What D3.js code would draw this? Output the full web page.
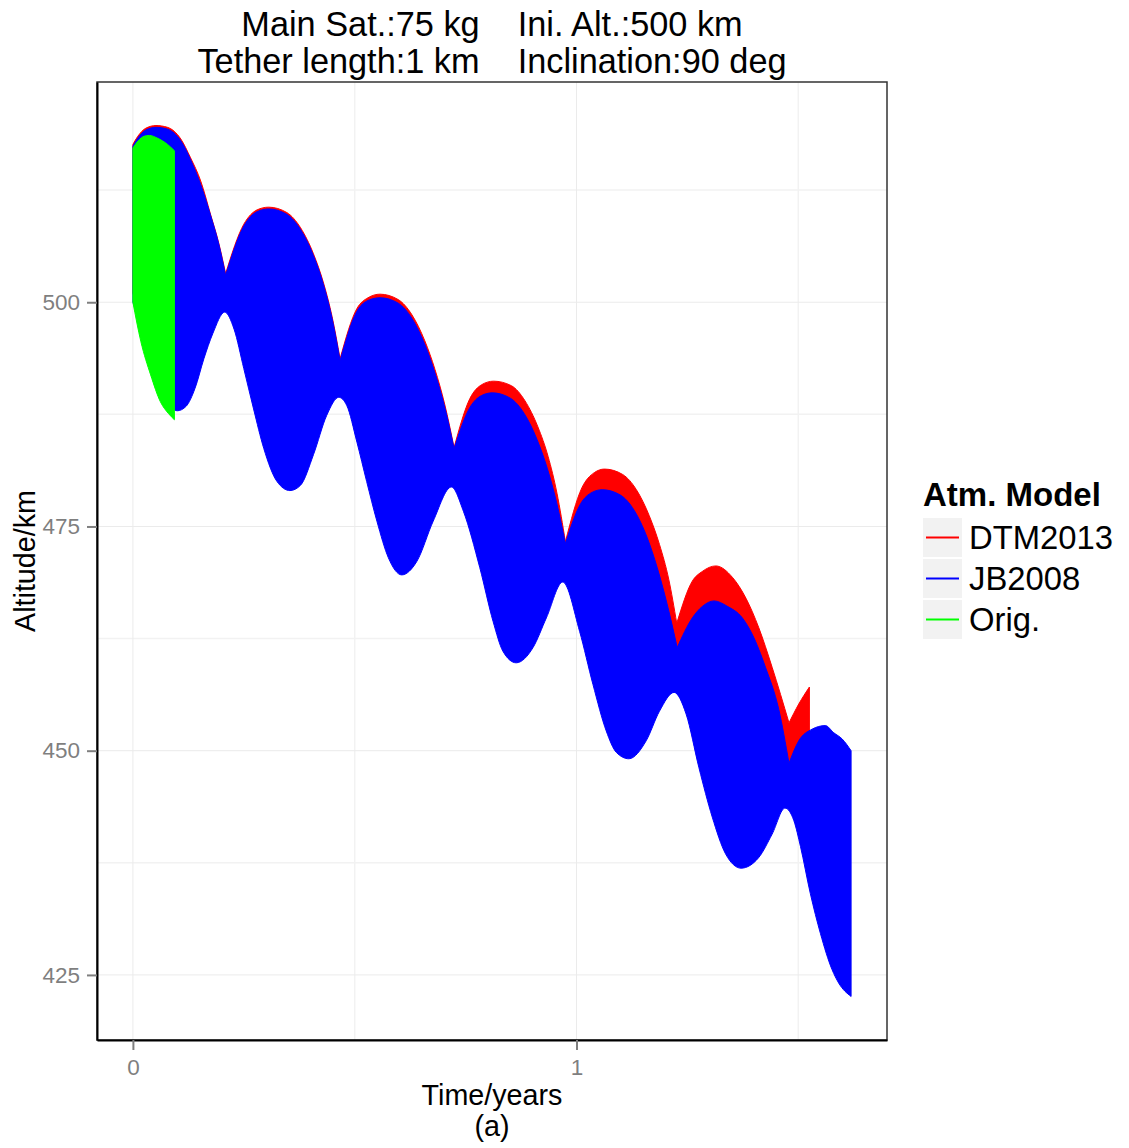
<!DOCTYPE html>
<html>
<head>
<meta charset="utf-8">
<script src="https://cdn.jsdelivr.net/npm/d3@7"></script>
<style>
  body { margin: 0; background: #fff; }
  text { font-family: "Liberation Sans", Arial, sans-serif; }
</style>
</head>
<body>
<div class="visualizations"></div>
<script>
(function() {
  'use strict';

  // ---- data (years, km) ----
  var models = ["DTM2013", "JB2008", "Orig."];
  var colors = ["#ff0000", "#0000ff", "#00ff00"];
  var xTicks = [0, 1];
  var yTicks = [425, 450, 475, 500];
  var titleLines = ["Main Sat.:75 kg    Ini. Alt.:500 km", "Tether length:1 km    Inclination:90 deg"];

  var dtmUpperT = [0, .011, .029, .052, .078, .108, .130, .153, .175, .194, .209,
    .250, .280, .306, .347, .378, .407, .430, .449, .467,
    .505, .530, .557, .598, .629, .658, .681, .703, .724,
    .760, .786, .813, .853, .884, .913, .936, .956, .975,
    1.012, 1.040, 1.063, 1.104, 1.135, 1.164, 1.187, 1.208, 1.226,
    1.261, 1.284, 1.314, 1.352, 1.382, 1.411, 1.441, 1.479,
    1.501, 1.525];
  var dtmUpperAlt = [517.6, 518.5, 519.4, 519.7, 519.5, 518.2, 516.1, 513.5, 509.8, 506.5, 503.2,
    508.7, 510.3, 510.6, 510.0, 508.3, 505.4, 502.1, 498.4, 493.7,
    499.3, 500.5, 500.9, 500.3, 498.6, 495.7, 492.5, 488.6, 483.8,
    489.3, 490.8, 491.2, 490.7, 489.0, 486.1, 482.8, 478.7, 473.3,
    479.3, 481.0, 481.4, 480.8, 479.1, 476.2, 473.0, 469.1, 464.2,
    468.9, 470.0, 470.6, 469.3, 467.0, 463.7, 459.3, 453.1,
    455.2, 457.1];
  var dtmLowerT = [0, .02, .04, .06, .08, .10, .12, .14, .16, .18, .207,
    .228, .250, .272, .295, .325, .354, .378, .407, .437, .464,
    .482, .505, .527, .550, .576, .606, .640, .677, .718,
    .745, .782, .812, .834, .864, .902, .932, .969,
    1.007, 1.037, 1.067, 1.090, 1.118, 1.157, 1.187, 1.220,
    1.247, 1.276, 1.306, 1.336, 1.371, 1.411, 1.441, 1.470,
    1.490, 1.505, 1.525];
  var dtmLowerAlt = [501.0, 498.0, 494.8, 492.0, 489.8, 488.9, 489.4, 491.4, 494.7, 497.5, 499.9,
    498.0, 493.6, 489.1, 484.7, 481.0, 480.0, 480.6, 484.0, 488.4, 490.4,
    489.5, 485.4, 481.0, 476.6, 472.5, 470.6, 472.1, 476.6, 480.4,
    477.7, 471.4, 465.4, 462.1, 460.8, 462.5, 465.8, 469.8,
    464.3, 458.4, 453.2, 450.8, 450.1, 452.1, 455.4, 457.5,
    455.1, 449.1, 443.6, 439.5, 437.9, 439.1, 441.7, 444.6,
    443.2, 440.3, 435.5];

  var jbUpperT = [0, .011, .029, .052, .078, .108, .130, .153, .175, .194, .209,
    .250, .280, .306, .347, .378, .407, .430, .449, .467,
    .505, .530, .557, .598, .629, .658, .681, .703, .724,
    .760, .786, .810, .851, .882, .911, .934, .955, .975,
    1.010, 1.035, 1.058, 1.099, 1.130, 1.159, 1.182, 1.204, 1.227,
    1.261, 1.284, 1.310, 1.340, 1.374, 1.396, 1.426, 1.456, 1.479,
    1.501, 1.531, 1.561, 1.580, 1.599, 1.619];
  var jbUpperAlt = [517.4, 518.3, 519.2, 519.5, 519.3, 518.0, 515.9, 513.1, 509.7, 506.4, 503.0,
    508.5, 510.1, 510.4, 509.8, 508.1, 505.2, 501.9, 498.2, 493.5,
    499.0, 500.2, 500.5, 499.9, 498.2, 495.3, 492.1, 488.3, 483.7,
    488.3, 489.6, 489.9, 489.3, 487.6, 484.7, 481.5, 477.7, 473.1,
    477.6, 478.8, 479.1, 478.5, 476.8, 473.8, 470.4, 466.4, 461.5,
    464.8, 466.1, 466.7, 466.1, 464.8, 463.0, 459.3, 454.6, 448.6,
    451.1, 452.4, 452.8, 452.0, 451.3, 450.0];
  var jbLowerT = [0, .02, .04, .06, .08, .10, .12, .14, .16, .18, .207,
    .228, .250, .272, .295, .325, .354, .378, .407, .437, .464,
    .482, .505, .527, .550, .576, .606, .640, .677, .718,
    .745, .782, .812, .834, .864, .902, .932, .969,
    1.007, 1.037, 1.067, 1.090, 1.118, 1.157, 1.187, 1.220,
    1.247, 1.276, 1.306, 1.336, 1.371, 1.411, 1.441, 1.470,
    1.490, 1.505, 1.527, 1.550, 1.576, 1.591, 1.619];
  var jbLowerAlt = [500.0, 497.0, 493.8, 491.0, 488.8, 487.9, 488.4, 490.4, 493.7, 496.5, 498.9,
    497.0, 492.6, 488.1, 483.7, 480.0, 479.0, 479.6, 483.0, 487.4, 489.4,
    488.5, 484.4, 480.0, 475.6, 471.5, 469.6, 471.1, 475.6, 479.4,
    476.7, 470.4, 464.4, 461.1, 459.8, 461.5, 464.8, 468.8,
    463.3, 457.4, 452.2, 449.8, 449.1, 451.1, 454.4, 456.5,
    454.1, 448.1, 442.6, 438.5, 436.9, 438.1, 440.7, 443.6,
    442.2, 439.3, 434.1, 429.6, 425.6, 424.1, 422.6];

  var origUpperT = [0, .012, .025, .037, .055, .078, .0935];
  var origUpperAlt = [517.2, 518.0, 518.5, 518.6, 518.3, 517.6, 516.9];
  var origLowerT = [0, .018, .040, .062, .080, .0935];
  var origLowerAlt = [500.0, 495.6, 491.9, 488.9, 487.6, 486.9];

  var bands = [
    { upT: dtmUpperT, upA: dtmUpperAlt, loT: dtmLowerT, loA: dtmLowerAlt },
    { upT: jbUpperT, upA: jbUpperAlt, loT: jbLowerT, loA: jbLowerAlt },
    { upT: origUpperT, upA: origUpperAlt, loT: origLowerT, loA: origLowerAlt }
  ];

  // ---- layout ----
  var width = 1129, height = 1148;
  var left = 97, right = 887, top = 82, bottom = 1040;

  var allT = [].concat(jbUpperT, jbLowerT, dtmUpperT);
  var allA = [].concat(jbUpperAlt, jbLowerAlt, dtmUpperAlt, origUpperAlt);
  var tMin = d3.min(allT), tMax = d3.max(allT), aMin = d3.min(allA), aMax = d3.max(allA);
  var tPad = (tMax - tMin) * 0.05, aPad = (aMax - aMin) * 0.05;

  var x = d3.scaleLinear().domain([tMin - tPad, tMax + tPad]).range([left, right]);
  var y = d3.scaleLinear().domain([aMin - aPad, aMax + aPad]).range([bottom, top]);

  var svg = d3.select(".visualizations").append("svg")
    .attr("width", width).attr("height", height);
  svg.append("rect").attr("width", width).attr("height", height).attr("fill", "#fff");

  // grid
  var minorX = [0.5, 1.5], minorY = [437.5, 462.5, 487.5, 512.5];
  var grid = svg.append("g");
  grid.selectAll(".mx").data(minorX).enter().append("line")
    .attr("x1", function(d) { return x(d); }).attr("x2", function(d) { return x(d); })
    .attr("y1", top).attr("y2", bottom).style("stroke", "#f2f2f2").style("stroke-width", 1.5);
  grid.selectAll(".my").data(minorY).enter().append("line")
    .attr("y1", function(d) { return y(d); }).attr("y2", function(d) { return y(d); })
    .attr("x1", left).attr("x2", right).style("stroke", "#f2f2f2").style("stroke-width", 1.5);
  grid.selectAll(".gx").data(xTicks).enter().append("line")
    .attr("x1", function(d) { return x(d); }).attr("x2", function(d) { return x(d); })
    .attr("y1", top).attr("y2", bottom).style("stroke", "#ebebeb").style("stroke-width", 1);
  grid.selectAll(".gy").data(yTicks).enter().append("line")
    .attr("y1", function(d) { return y(d); }).attr("y2", function(d) { return y(d); })
    .attr("x1", left).attr("x2", right).style("stroke", "#ebebeb").style("stroke-width", 1);

  // bands: upper edge split at cusps, lower edge returned in reverse
  var smooth = d3.line().x(function(d) { return x(d[0]); }).y(function(d) { return y(d[1]); })
    .curve(d3.curveMonotoneX);

  function bandPath(b) {
    var up = b.upT.map(function(t, i) { return [t, b.upA[i]]; });
    var lo = b.loT.map(function(t, i) { return [t, b.loA[i]]; }).reverse();
    var parts = [], start = 0;
    for (var i = 1; i < up.length - 1; i++) {
      if (up[i][1] < up[i - 1][1] && up[i][1] < up[i + 1][1]) {
        parts.push(up.slice(start, i + 1));
        start = i;
      }
    }
    parts.push(up.slice(start));
    var p = parts.map(function(seg, k) {
      var s = smooth(seg);
      return k === 0 ? s : "L" + s.slice(1);
    }).join("");
    return p + "L" + smooth(lo).slice(1) + "Z";
  }

  svg.append("g").selectAll("path").data(bands).enter().append("path")
    .attr("d", bandPath)
    .style("fill", function(d, i) { return colors[i]; })
    .style("stroke", function(d, i) { return colors[i]; })
    .style("stroke-width", 1);

  // panel border + axes
  svg.append("rect").attr("x", left).attr("y", top).attr("width", right - left).attr("height", bottom - top)
    .style("fill", "none").style("stroke", "#333").style("stroke-width", 1.5);

  var xAxis = svg.append("g").attr("transform", "translate(0," + bottom + ")")
    .call(d3.axisBottom(x).tickValues(xTicks).tickFormat(d3.format("d"))
      .tickSize(10).tickSizeOuter(0).tickPadding(9));
  var yAxis = svg.append("g").attr("transform", "translate(" + left + ",0)")
    .call(d3.axisLeft(y).tickValues(yTicks).tickFormat(d3.format("d"))
      .tickSize(10).tickSizeOuter(0).tickPadding(7));
  [xAxis, yAxis].forEach(function(a) {
    a.select(".domain").style("stroke", "#000").style("stroke-width", 2);
    a.selectAll(".tick line").style("stroke", "#7f7f7f").style("stroke-width", 2);
    a.selectAll(".tick text").style("fill", "#7f7f7f").style("font-size", "22.5px")
      .style("font-family", "'Liberation Sans', Arial, sans-serif");
  });

  // titles
  var cx = (left + right) / 2;
  svg.selectAll(".title").data(titleLines).enter().append("text")
    .attr("x", cx).attr("y", function(d, i) { return 36 + i * 37; })
    .attr("text-anchor", "middle").attr("xml:space", "preserve")
    .style("font-size", "34.3px").style("fill", "#000")
    .text(function(d) { return d; });

  svg.append("text").attr("x", cx).attr("y", 1105).attr("text-anchor", "middle")
    .style("font-size", "28.7px").text("Time/years");
  svg.append("text").attr("x", cx).attr("y", 1136).attr("text-anchor", "middle")
    .style("font-size", "28.7px").text("(a)");
  svg.append("text").attr("transform", "translate(35," + ((top + bottom) / 2) + ") rotate(-90)")
    .attr("text-anchor", "middle").style("font-size", "28.7px").text("Altitude/km");

  // legend
  var legend = svg.append("g").attr("transform", "translate(923,0)");
  legend.append("text").attr("x", 0).attr("y", 506)
    .style("font-size", "33px").style("font-weight", "bold").text("Atm. Model");
  var rows = legend.selectAll(".row").data(models).enter().append("g")
    .attr("transform", function(d, i) { return "translate(0," + (518 + i * 41) + ")"; });
  rows.append("rect").attr("width", 39).attr("height", 39).style("fill", "#f2f2f2");
  rows.append("line").attr("x1", 3).attr("x2", 36).attr("y1", 19.5).attr("y2", 19.5)
    .style("stroke", function(d, i) { return colors[i]; }).style("stroke-width", 2);
  rows.append("text").attr("x", 46).attr("y", 19.5 + 11.8)
    .style("font-size", "32.8px").text(function(d) { return d; });
})();
</script>
</body>
</html>
